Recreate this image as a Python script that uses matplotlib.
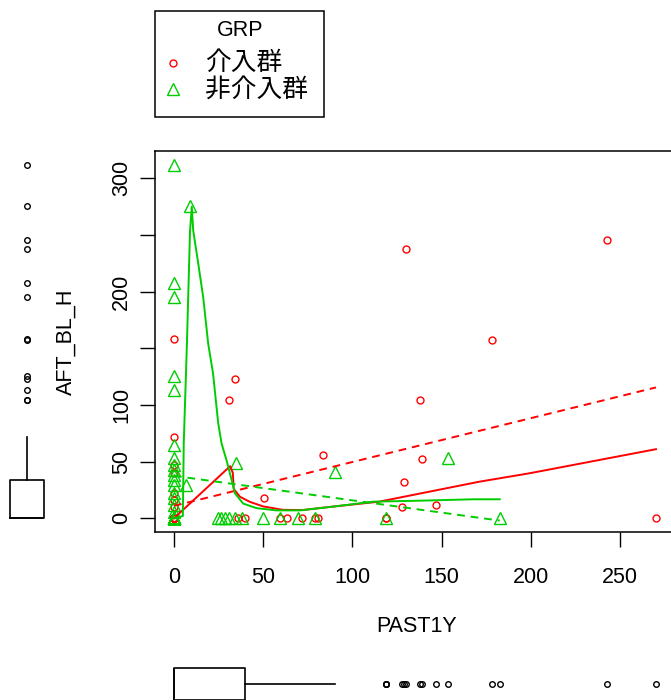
"""
Streudiagramm AFT_BL_H ~ PAST1Y nach Gruppe (GRP), mit Randboxplots
(Nachbau eines car::scatterplot-Bildes aus R).

Output: out.png (671x700)
"""

import matplotlib
matplotlib.use("Agg")
import matplotlib.pyplot as plt
from matplotlib.lines import Line2D
from matplotlib.patches import Rectangle

plt.rcParams["font.family"] = ["Liberation Sans", "DejaVu Sans"]
CJK = ["Noto Sans CJK JP", "DejaVu Sans"]

RED   = "#FF0000"
GREEN = "#00CD00"
FS    = 15.5

# ── Daten ──────────────────────────────────────────────────────────────────────

# 介入群 (Kreise)
red_x = [0, 0, 31, 34.3, 50.5, 83.5, 127.5, 129, 130, 138, 139, 147, 178, 242.5, 270,
         36, 40, 59.5, 63.3, 71.5, 79, 80.5, 119, 119,
         0, 0, 0, 0, 0, 0]
red_y = [158, 72, 104, 123, 18, 56, 10, 32, 238, 104, 52, 12, 157, 246, 0,
         0, 0, 0, 0, 0, 0, 0, 0, 0,
         47, 40, 22, 16, 10, 0]

# 非介入群 (Dreiecke)
green_x = [0, 9, 0, 0, 0, 0, 0, 0, 0, 0, 0, 0, 0, 0, 0, 0, 0, 0,
           7, 35, 90, 153.5, 182.5, 119,
           24.5, 26.5, 28.5, 31, 34, 38, 50, 59.5, 69.5, 79]
green_y = [312, 276, 208, 195, 126, 113, 65, 53, 47, 43, 38, 34, 29, 22, 18, 12, 6, 0,
           29, 49, 41, 53, 0, 0,
           0, 0, 0, 0, 0, 0, 0, 0, 0, 0]

# viele ueberlagerte Punkte im Ursprung (aus den Randboxplots erschlossen)
red_x += [0] * 20
red_y += [0] * 20
green_x += [0] * 21
green_y += [0] * 21

# Glaetter (durchgezogen) und lineare Fits (gestrichelt)
red_smooth_x = [0, 31.5, 33, 33.5, 37, 42.6, 50, 61, 72, 87, 115, 143, 171, 199, 270]
red_smooth_y = [0, 46, 40, 26, 19, 14.5, 10.5, 7.5, 7.3, 10, 14.7, 23.5, 32.3, 39.7, 61]
red_lm_x = [0, 270]
red_lm_y = [11, 115.5]

green_smooth_x = [0, 5, 5.5, 7.3, 9, 10, 10.8, 13.6, 16.4, 19.2, 21.9, 24.8, 26.7,
                  29.5, 32.3, 34.2, 38.8, 46.2, 57.4, 70.6, 87.4, 111.6, 136, 167.8, 182.5]
green_smooth_y = [0, 2, 66, 155, 253, 275, 254, 225, 195, 154, 128, 84, 66,
                  51, 34, 22, 13, 9, 7, 7, 10, 14.7, 15.5, 16.8, 16.8]
green_lm_x = [0, 182.5]
green_lm_y = [37.5, -2]

X_TICKS = [0, 50, 100, 150, 200, 250]
Y_TICKS = [0, 50, 100, 150, 200, 250, 300]
Y_TICKLABELS = ["0", "50", "100", "", "200", "", "300"]   # R laesst 150/250 weg
XLIM = (-10.6, 282.9)
YLIM = (-11.8, 324.1)

# ── Layout in Pixeln ───────────────────────────────────────────────────────────

W, H = 671, 700
fig = plt.figure(figsize=(W / 100, H / 100), dpi=100)


def px_axes(x0, y0, x1, y1):
    return fig.add_axes([x0 / W, 1 - y1 / H, (x1 - x0) / W, (y1 - y0) / H])


# ── Hauptplot ──────────────────────────────────────────────────────────────────

ax = px_axes(155, 151, 679, 531.7)
ax.plot(red_x, red_y, ls="none", marker="o", ms=5, mfc="none", mec=RED, mew=1)
ax.plot(green_x, green_y, ls="none", marker="^", ms=8, mfc="none", mec=GREEN, mew=1)

LW = 1.4
ax.plot(red_lm_x, red_lm_y, color=RED, lw=LW, dashes=(4, 3))
ax.plot(red_smooth_x, red_smooth_y, color=RED, lw=LW)
ax.plot(green_lm_x, green_lm_y, color=GREEN, lw=LW, dashes=(4, 3))
ax.plot(green_smooth_x, green_smooth_y, color=GREEN, lw=LW)

ax.set_xlim(*XLIM)
ax.set_ylim(*YLIM)
ax.set_xticks(X_TICKS)
ax.set_yticks(Y_TICKS, Y_TICKLABELS)
ax.tick_params(axis="both", length=10.5, width=1, labelsize=FS)
ax.tick_params(axis="x", pad=15)
ax.tick_params(axis="y", pad=6)
for lab in ax.get_yticklabels():
    lab.set_rotation(90)
    lab.set_va("center")
for sp in ax.spines.values():
    sp.set_linewidth(1.1)

ax.set_xlabel("PAST1Y", fontsize=FS)
ax.xaxis.set_label_coords(0.5, (531.7 - 627) / 380.7)
ax.xaxis.label.set_va("center")
ax.set_ylabel("AFT_BL_H", fontsize=FS)
ax.yaxis.set_label_coords((66 - 155) / 524, 0.5)
ax.yaxis.label.set_va("center")

# ── Randboxplots ───────────────────────────────────────────────────────────────

box_style = dict(
    whis=1.5, showcaps=False,
    boxprops=dict(color="black", lw=1.2),
    whiskerprops=dict(color="black", lw=1.2, ls="-"),
    medianprops=dict(color="black", lw=1.2),
    flierprops=dict(marker="o", ms=4, mfc="none", mec="black", mew=1.0),
)

ax_l = px_axes(0, 151, 53, 531.7)
ax_l.boxplot(red_y + green_y, positions=[0], widths=34 / 53, **box_style)
ax_l.set_xlim(-0.5, 0.5)
ax_l.set_ylim(*YLIM)
ax_l.axis("off")

ax_b = px_axes(155, 657, 679, 711)
ax_b.boxplot(red_x + green_x, positions=[0], widths=31.4 / 54,
             orientation="horizontal", **box_style)
ax_b.set_xlim(*XLIM)
ax_b.set_ylim(-0.5, 0.5)
ax_b.axis("off")

# ── Legende (GRP) ──────────────────────────────────────────────────────────────

fig.add_artist(Rectangle((155 / W, 1 - 117.3 / H), 169.3 / W, 106.3 / H,
                         transform=fig.transFigure, fill=False, ec="black", lw=1.1))
fig.text(239.7 / W, 1 - 30 / H, "GRP", ha="center", va="center", fontsize=FS)
fig.add_artist(Line2D([173.3 / W], [1 - 63.3 / H], transform=fig.transFigure,
                      ls="none", marker="o", ms=5, mfc="none", mec=RED, mew=1))
fig.add_artist(Line2D([173.3 / W], [1 - 89 / H], transform=fig.transFigure,
                      ls="none", marker="^", ms=8, mfc="none", mec=GREEN, mew=1))
fig.text(205 / W, 1 - 63 / H, "介入群", family=CJK, fontsize=18.5, va="center")
fig.text(205 / W, 1 - 90 / H, "非介入群", family=CJK, fontsize=18.5, va="center")

fig.savefig("out.png", dpi=100)
plt.close(fig)
